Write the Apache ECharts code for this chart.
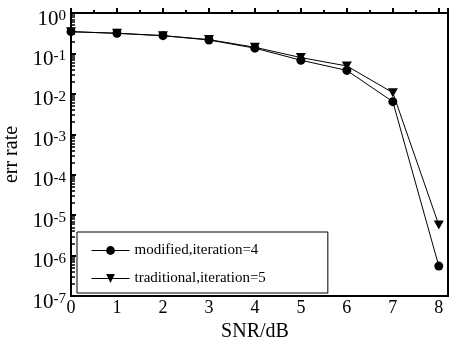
<!DOCTYPE html>
<html>
<head>
<meta charset="utf-8">
<script src="https://cdn.jsdelivr.net/npm/echarts@6/dist/echarts.min.js"></script>
<style>
  html, body { margin: 0; padding: 0; background: #fff; }
  #chart { width: 451px; height: 343px; }
</style>
</head>
<body>
<div id="chart"></div>
<script>
// SNR points (dB)
const snr = [0, 1, 2, 3, 4, 5, 6, 7, 8];
// error rate of each decoder
const modified = [0.345, 0.315, 0.275, 0.215, 0.135, 0.068, 0.038, 0.0064, 5.5e-7];
const traditional = [0.345, 0.315, 0.275, 0.22, 0.142, 0.079, 0.049, 0.0107, 5.7e-6];
const seriesNames = ['modified,iteration=4', 'traditional,iteration=5'];
// minor tick positions (log10) between the decades of the left axis
const minorLog = [];
for (let d = -7; d < 0; d++) {
  for (let k = 2; k <= 9; k++) minorLog.push(d + Math.log10(k));
}

const serif = '"Liberation Serif", "Times New Roman", serif';
const chart = echarts.init(document.getElementById('chart'), null, { renderer: 'canvas' });

const downTri = 'path://M0,0L10,0L5,9Z';

chart.setOption({
  animation: false,
  backgroundColor: '#fff',
  grid: {
    left: 71, right: 3, top: 13, bottom: 47,
    outerBoundsMode: 'none',
    containLabel: false,
    show: true, borderColor: '#000', borderWidth: 2, backgroundColor: 'transparent'
  },
  legend: {
    orient: 'vertical',
    left: 77, top: 232,
    padding: [11, 62, 7, 14],
    itemGap: 13,
    itemWidth: 38, itemHeight: 11,
    borderColor: '#000', borderWidth: 1,
    lineStyle: { width: 1 },
    textStyle: { fontFamily: serif, fontSize: 15, color: '#000' },
    data: seriesNames
  },
  xAxis: {
    type: 'value',
    min: 0, max: 8.2, interval: 1,
    name: 'SNR/dB', nameLocation: 'middle', nameGap: 24,
    nameTextStyle: { fontFamily: serif, fontSize: 20, color: '#000', padding: [0, 9, 0, 0] },
    axisLine: { lineStyle: { color: '#000', width: 2 } },
    axisTick: { inside: true, length: 5, lineStyle: { color: '#000', width: 2 } },
    minorTick: { show: true, splitNumber: 2, length: 3, lineStyle: { color: '#000', width: 2 } },
    axisLabel: {
      fontFamily: serif, fontSize: 18, color: '#000', margin: 3,
      formatter: v => (Number.isInteger(v) ? String(v) : '')
    },
    splitLine: { show: false }
  },
  yAxis: [
    {
      type: 'log', logBase: 10,
      min: 1e-7, max: 1,
      name: 'err rate', nameLocation: 'middle', nameGap: 48,
      nameTextStyle: { fontFamily: serif, fontSize: 20, color: '#000' },
      axisLine: { lineStyle: { color: '#000', width: 2 } },
      axisTick: { inside: true, length: 5, lineStyle: { color: '#000', width: 2 } },
      axisLabel: {
        margin: 5,
        padding: [12, 0, 0, 0],
        formatter: v => '{b|10}{s|' + Math.round(Math.log10(v)) + '}',
        rich: {
          b: { fontFamily: serif, fontSize: 21, color: '#000', lineHeight: 21, verticalAlign: 'bottom' },
          s: { fontFamily: serif, fontSize: 15, color: '#000', lineHeight: 21, verticalAlign: 'top', padding: [0, 0, 9, 0] }
        }
      },
      splitLine: { show: false }
    },
    {
      // minor ticks between decades
      type: 'value', min: -7, max: 0, position: 'left',
      axisLine: { show: false },
      axisLabel: { show: false },
      axisTick: { show: true, inside: true, length: 4, customValues: minorLog, lineStyle: { color: '#000', width: 1.5 } },
      splitLine: { show: false }
    }
  ],
  series: [
    {
      name: seriesNames[0], type: 'line',
      data: snr.map((x, i) => [x, modified[i]]),
      symbol: 'circle', symbolSize: 9,
      lineStyle: { color: '#000', width: 1 },
      itemStyle: { color: '#000' },
      z: 3
    },
    {
      name: seriesNames[1], type: 'line',
      data: snr.map((x, i) => [x, traditional[i]]),
      symbol: downTri, symbolSize: [10, 9],
      lineStyle: { color: '#000', width: 1 },
      itemStyle: { color: '#000' },
      z: 2
    }
  ]
});
</script>
</body>
</html>
